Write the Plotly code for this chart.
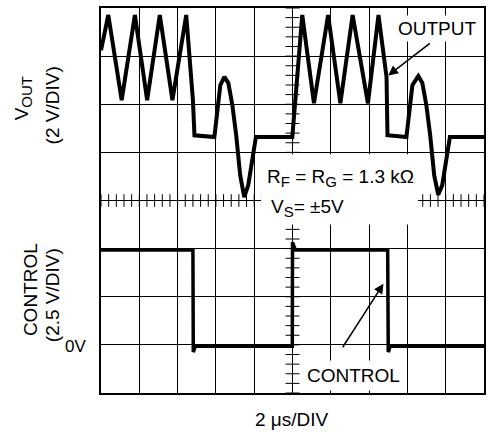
import numpy as np
import plotly.graph_objects as go

# scope settings: 2 us/div, 10 x 8 divisions
vout_scale = 2.0      # V/div
ctrl_scale = 2.5      # V/div
vout_zero = 1.32      # div above centre
ctrl_zero = -3.03     # div (0V marker)

# VOUT trace (us, V)
vout_t = [0, 0.38, 1.08, 1.77, 2.41, 3.07, 3.73, 4.45, 4.80, 4.88, 5.92,
          6.08, 6.23, 6.44, 6.65, 6.86, 7.06, 7.27, 7.48, 7.69, 7.90, 8.09, 9.99,
          10.51, 11.12, 11.86, 12.50, 13.14, 13.94, 14.49, 14.91, 14.96, 15.95,
          16.10, 16.26, 16.57, 16.78, 16.99, 17.19, 17.40, 17.61, 17.82, 18.03, 18.22, 20]
vout_v = [3.6, 5.07, 1.53, 5.07, 1.53, 5.07, 1.53, 5.07, 1.53, 0.07, 0,
          1.11, 2.15, 2.5, 2.24, 1.32, 0.07, -1.6, -2.5, -2.0, -0.97, 0, 0,
          5.07, 1.4, 5.07, 1.4, 5.07, 1.4, 5.07, 2.49, 0.07, 0,
          1.11, 2.15, 2.53, 2.24, 1.32, 0.07, -1.6, -2.4, -2.0, -0.97, 0, 0]

# CONTROL trace (us, V)
ctrl_t = [0, 4.80, 4.82, 4.92, 9.99, 10.0, 10.15, 14.97, 15.0, 15.1, 20]
ctrl_v = [5.0, 5.0, -0.3, 0, 0, 5.4, 5.0, 5.0, -0.3, 0, 0]

FONT = "Liberation Sans, Arial, sans-serif"


def sub(s):
    return "<sub><span style='font-size:15px'>%s</span></sub>" % s


fig = go.Figure()

# minor ticks on the centre graticule lines
tx = np.arange(0, 20.001, 0.4)
ty = np.arange(-4, 4.001, 0.2)
fig.add_trace(go.Scatter(x=tx, y=np.zeros_like(tx), mode="markers", hoverinfo="skip",
                         marker=dict(symbol="line-ns", size=9, line=dict(width=1, color="black"))))
fig.add_trace(go.Scatter(x=np.full_like(ty, 10), y=ty, mode="markers", hoverinfo="skip",
                         marker=dict(symbol="line-ew", size=10, line=dict(width=1, color="black"))))

fig.add_trace(go.Scatter(x=vout_t, y=[v / vout_scale + vout_zero for v in vout_v],
                         mode="lines", line=dict(color="black", width=4)))
fig.add_trace(go.Scatter(x=ctrl_t, y=[v / ctrl_scale + ctrl_zero for v in ctrl_v],
                         mode="lines", line=dict(color="black", width=3.5)))

# white area behind the conditions text
fig.add_shape(type="rect", x0=8.36, x1=16.55, y0=-0.5, y1=0.96, layer="above",
              line=dict(width=0), fillcolor="white")

ann = dict(showarrow=False, xanchor="center", yanchor="middle",
           font=dict(family=FONT, size=19, color="black"))
fig.add_annotation(x=8.57, y=0.46, text="R%s = R%s = 1.3 kΩ" % (sub("F"), sub("G")),
                   **{**ann, "xanchor": "left"})
fig.add_annotation(x=8.78, y=-0.15, text="V%s= ±5V" % sub("S"), **{**ann, "xanchor": "left"})
fig.add_annotation(x=17.56, y=3.58, text="OUTPUT", bgcolor="white", borderpad=2, **ann)
fig.add_annotation(x=13.2, y=-3.63, text="CONTROL", bgcolor="white", borderpad=4, **ann)

# arrows
arr = dict(text="", showarrow=True, arrowhead=2, arrowsize=1.3, arrowwidth=1.5,
           arrowcolor="black", axref="x", ayref="y")
fig.add_annotation(x=15.0, y=2.6, ax=17.25, ay=3.29, **arr)
fig.add_annotation(x=14.75, y=-1.73, ax=12.57, ay=-3.08, **arr)

# axis labels
fig.add_annotation(x=-0.203, y=0.766, xref="paper", yref="paper", textangle=-90,
                   text="V" + sub("OUT"), **ann)
fig.add_annotation(x=-0.127, y=0.748, xref="paper", yref="paper", textangle=-90,
                   text="(2 V/DIV)", **ann)
fig.add_annotation(x=-0.182, y=0.268, xref="paper", yref="paper", textangle=-90,
                   text="CONTROL", **ann)
fig.add_annotation(x=-0.127, y=0.255, xref="paper", yref="paper", textangle=-90,
                   text="(2.5 V/DIV)", **ann)
fig.add_annotation(x=-0.034, y=ctrl_zero, xref="paper", yref="y",
                   text="0V", **{**ann, "xanchor": "right",
                                 "font": dict(family=FONT, size=17, color="black")})
fig.add_annotation(x=0.4987, y=-0.068, xref="paper", yref="paper",
                   text="2 μs/DIV", **ann)

fig.update_xaxes(range=[0, 20], dtick=2, showgrid=True, gridcolor="black", gridwidth=1,
                 zeroline=False, showticklabels=False, ticks="", showline=True,
                 linecolor="black", linewidth=2, mirror=True, fixedrange=True)
fig.update_yaxes(range=[-4, 4], dtick=1, showgrid=True, gridcolor="black", gridwidth=1,
                 zeroline=False, showticklabels=False, ticks="", showline=True,
                 linecolor="black", linewidth=2, mirror=True, fixedrange=True)

fig.update_layout(width=490, height=434, showlegend=False,
                  margin=dict(l=101, r=4, t=8, b=41),
                  plot_bgcolor="white", paper_bgcolor="white",
                  font=dict(family=FONT, size=19, color="black"))

fig.write_html("out.html", config={"displayModeBar": False},
               post_script="document.body.style.margin='0';")
